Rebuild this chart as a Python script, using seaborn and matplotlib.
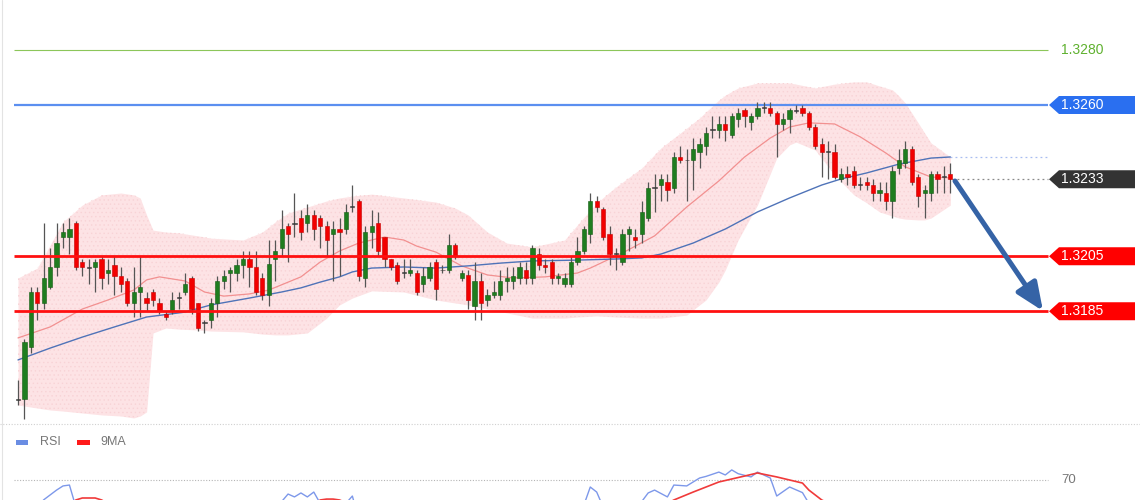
import numpy as np
import pandas as pd
import matplotlib
matplotlib.use("Agg")
import matplotlib.pyplot as plt
from matplotlib.patches import Polygon, Rectangle
from matplotlib.lines import Line2D
import seaborn as sns

# ---------------- data ----------------
open_ = [1.3153,1.3153,1.3172,1.3192,1.3188,1.3194,1.3201,1.3212,1.3212,1.3217,
 1.3203,1.3201,1.3201,1.3204,1.3199,1.3202,1.3198,1.3196,1.3188,1.3192,
 1.3190,1.3192,1.3188,1.3184,1.3185,1.3190,1.3192,1.3197,1.3188,1.3181,
 1.3182,1.3188,1.3196,1.3199,1.3199,1.3202,1.3204,1.3201,1.3197,1.3191,
 1.3204,1.3208,1.3216,1.3217,1.3219,1.3217,1.3220,1.3219,1.3216,1.3213,
 1.3215,1.3215,1.3223,1.3225,1.3197,1.3214,1.3217,1.3212,1.3204,1.3202,
 1.3199,1.3199,1.3199,1.3195,1.3197,1.3203,1.3200,1.3200,1.3209,1.3197,
 1.3198,1.3187,1.3196,1.3189,1.3191,1.3191,1.3196,1.3196,1.3197,1.3200,
 1.3197,1.3206,1.3202,1.3203,1.3197,1.3195,1.3195,1.3203,1.3207,1.3213,
 1.3225,1.3222,1.3213,1.3206,1.3203,1.3213,1.3212,1.3213,1.3219,1.3230,
 1.3231,1.3232,1.3230,1.3241,1.3240,1.3240,1.3243,1.3245,1.3251,1.3251,
 1.3253,1.3249,1.3255,1.3258,1.3254,1.3256,1.3259,1.3259,1.3257,1.3253,
 1.3255,1.3258,1.3259,1.3257,1.3252,1.3246,1.3243,1.3243,1.3233,1.3235,
 1.3236,1.3231,1.3232,1.3231,1.3228,1.3228,1.3225,1.3237,1.3239,1.3244,
 1.3234,1.3228,1.3228,1.3235,1.3234,1.3235]
high = [1.3160,1.3175,1.3194,1.3194,1.3217,1.3208,1.3217,1.3217,1.3219,1.3218,
 1.3204,1.3204,1.3204,1.3205,1.3204,1.3205,1.3201,1.3197,1.3201,1.3205,
 1.3192,1.3193,1.3190,1.3185,1.3192,1.3192,1.3199,1.3198,1.3188,1.3182,
 1.3190,1.3198,1.3200,1.3201,1.3204,1.3207,1.3207,1.3207,1.3199,1.3211,
 1.3211,1.3222,1.3217,1.3228,1.3222,1.3224,1.3222,1.3220,1.3218,1.3218,
 1.3219,1.3224,1.3231,1.3226,1.3216,1.3222,1.3221,1.3212,1.3204,1.3203,
 1.3204,1.3204,1.3200,1.3201,1.3203,1.3204,1.3202,1.3213,1.3210,1.3200,
 1.3200,1.3203,1.3199,1.3193,1.3196,1.3200,1.3201,1.3201,1.3203,1.3203,
 1.3209,1.3208,1.3204,1.3204,1.3199,1.3199,1.3205,1.3212,1.3216,1.3228,
 1.3227,1.3223,1.3216,1.3208,1.3215,1.3216,1.3215,1.3225,1.3232,1.3235,
 1.3235,1.3235,1.3243,1.3245,1.3244,1.3248,1.3248,1.3252,1.3256,1.3256,
 1.3256,1.3257,1.3259,1.3259,1.3257,1.3261,1.3261,1.3261,1.3258,1.3257,
 1.3259,1.3260,1.3260,1.3258,1.3253,1.3248,1.3247,1.3246,1.3237,1.3238,
 1.3238,1.3234,1.3234,1.3233,1.3232,1.3232,1.3238,1.3244,1.3247,1.3245,
 1.3235,1.3231,1.3236,1.3236,1.3238,1.3239]
low = [1.3151,1.3146,1.3170,1.3182,1.3186,1.3193,1.3198,1.3208,1.3206,1.3200,
 1.3198,1.3195,1.3192,1.3193,1.3195,1.3191,1.3192,1.3187,1.3183,1.3183,
 1.3185,1.3187,1.3184,1.3182,1.3184,1.3186,1.3191,1.3184,1.3178,1.3177,
 1.3179,1.3183,1.3193,1.3192,1.3196,1.3197,1.3194,1.3191,1.3189,1.3187,
 1.3196,1.3205,1.3203,1.3212,1.3211,1.3214,1.3211,1.3208,1.3205,1.3196,
 1.3198,1.3213,1.3221,1.3196,1.3194,1.3208,1.3205,1.3201,1.3200,1.3195,
 1.3197,1.3198,1.3191,1.3192,1.3196,1.3189,1.3199,1.3199,1.3204,1.3196,
 1.3186,1.3182,1.3182,1.3187,1.3190,1.3189,1.3192,1.3193,1.3195,1.3195,
 1.3195,1.3200,1.3199,1.3195,1.3195,1.3194,1.3194,1.3202,1.3206,1.3210,
 1.3221,1.3211,1.3202,1.3200,1.3202,1.3207,1.3208,1.3210,1.3218,1.3221,
 1.3225,1.3225,1.3228,1.3239,1.3225,1.3229,1.3237,1.3242,1.3248,1.3248,
 1.3247,1.3248,1.3252,1.3252,1.3251,1.3255,1.3257,1.3256,1.3241,1.3251,
 1.3250,1.3257,1.3256,1.3251,1.3244,1.3234,1.3233,1.3233,1.3232,1.3231,
 1.3230,1.3229,1.3229,1.3225,1.3225,1.3222,1.3219,1.3235,1.3237,1.3231,
 1.3223,1.3219,1.3225,1.3228,1.3228,1.3228]
close = [1.3153,1.3174,1.3192,1.3188,1.3197,1.3201,1.3210,1.3214,1.3215,1.3201,
 1.3201,1.3201,1.3203,1.3197,1.3200,1.3198,1.3195,1.3188,1.3192,1.3194,
 1.3188,1.3189,1.3185,1.3183,1.3189,1.3190,1.3195,1.3186,1.3179,1.3181,
 1.3188,1.3196,1.3198,1.3200,1.3202,1.3204,1.3201,1.3192,1.3191,1.3202,
 1.3207,1.3215,1.3213,1.3217,1.3214,1.3220,1.3215,1.3216,1.3211,1.3215,
 1.3214,1.3221,1.3223,1.3198,1.3214,1.3216,1.3207,1.3204,1.3201,1.3196,
 1.3199,1.3200,1.3192,1.3198,1.3201,1.3193,1.3200,1.3209,1.3205,1.3199,
 1.3189,1.3196,1.3188,1.3191,1.3192,1.3196,1.3197,1.3198,1.3201,1.3197,
 1.3208,1.3202,1.3201,1.3197,1.3198,1.3197,1.3203,1.3207,1.3215,1.3225,
 1.3223,1.3212,1.3206,1.3206,1.3213,1.3215,1.3211,1.3221,1.3230,1.3230,
 1.3233,1.3229,1.3241,1.3240,1.3240,1.3244,1.3246,1.3250,1.3251,1.3253,
 1.3251,1.3256,1.3257,1.3256,1.3256,1.3259,1.3259,1.3257,1.3253,1.3255,
 1.3258,1.3258,1.3257,1.3252,1.3245,1.3243,1.3243,1.3234,1.3235,1.3234,
 1.3231,1.3231,1.3231,1.3228,1.3229,1.3225,1.3236,1.3240,1.3244,1.3232,
 1.3227,1.3229,1.3235,1.3233,1.3234,1.3233]

# Bollinger band (read at sample candles)
band_idx = [1,4,6,8,11,14,17,19,20,21,22,24,26,29,31,36,39,41,43,46,49,51,53,56,61,66,69,71,74,77,
            81,86,88,91,94,98,101,105,107,108,110,111,113,116,119,121,122,125,128,131,133,135,137,138,139,
            141,142,143,146]
band_upper = [1.31971,1.32007,1.32091,1.32175,1.32236,1.32273,1.32280,1.32273,1.32262,1.32200,
              1.32145,1.32138,1.32135,1.32124,1.32116,1.32109,1.32138,1.32175,1.32207,1.32229,
              1.32251,1.32262,1.32269,1.32276,1.32262,1.32247,1.32225,1.32200,1.32138,1.32098,
              1.32084,1.32109,1.32164,1.32244,1.32302,1.32371,1.32444,1.32516,1.32553,1.32575,
              1.32618,1.32636,1.32662,1.32680,1.32680,1.32680,1.32676,1.32662,1.32676,1.32684,
              1.32684,1.32669,1.32655,1.32633,1.32607,1.32535,1.32498,1.32462,1.32411]
band_lower = [1.31509,1.31498,1.31491,1.31487,1.31480,1.31473,1.31469,1.31462,1.31469,1.31484,
              1.31771,1.31789,1.31785,1.31782,1.31778,1.31775,1.31767,1.31764,1.31764,1.31771,
              1.31825,1.31873,1.31898,1.31924,1.31920,1.31891,1.31880,1.31873,1.31858,1.31844,
              1.31825,1.31825,1.31829,1.31833,1.31829,1.31825,1.31825,1.31836,1.31873,1.31891,
              1.31956,1.32000,1.32109,1.32236,1.32407,1.32455,1.32465,1.32436,1.32345,1.32273,
              1.32244,1.32211,1.32196,1.32189,1.32185,1.32182,1.32182,1.32189,1.32236]

mid_idx = [1,6,11,15,19,21,23,27,30,33,37,40,45,48,51,54,56,58,61,63,66,70,74,78,83,88,90,95,100,
           105,110,114,118,121,124,128,132,136,139,143,146]
mid_vals = [1.31753,1.31793,1.31858,1.31891,1.31927,1.31964,1.31975,1.31960,1.31920,1.31905,
            1.31913,1.31927,1.31975,1.32029,1.32069,1.32098,1.32109,1.32120,1.32109,1.32087,
            1.32065,1.32015,1.31982,1.31971,1.31975,1.31989,1.32007,1.32062,1.32124,1.32229,
            1.32324,1.32411,1.32480,1.32520,1.32535,1.32531,1.32484,1.32425,1.32375,1.32338,1.32335]

ma_idx = [1,6,11,16,21,27,31,37,42,45,48,51,53,56,61,66,71,76,81,88,94,98,101,106,111,116,121,
          126,129,133,138,143,146]
ma_vals = [1.31673,1.31716,1.31756,1.31793,1.31829,1.31847,1.31873,1.31898,1.31920,1.31935,
           1.31956,1.31975,1.31993,1.32007,1.32011,1.32007,1.32015,1.32025,1.32033,1.32036,
           1.32040,1.32044,1.32058,1.32098,1.32149,1.32211,1.32262,1.32309,1.32331,1.32353,
           1.32385,1.32407,1.32411]

levels = [1.3280, 1.3260, 1.3233, 1.3205, 1.3185]
level_labels = ["1.3280", "1.3260", "1.3233", "1.3205", "1.3185"]

rsi_idx = [1,4,5,7,8,9,10,14,20,30,40,42,43,44,45,46,47,48,52,53,54,60,70,80,88,89,90,91,92,96,
           98,99,100,102,103,105,106,107,108,110,111,112,113,115,116,118,119,121,123,124,128,135,140,146]
rsi_vals = [50,55,59,64.4,66.7,67.2,55,48,47,42,52,58,62.2,60.6,62.8,60.6,63.3,57,57,61.1,48,42,44,50,
            52,56,66.1,63.3,55,55,58,62.8,64.4,60.6,67.2,66.7,68.9,71.1,72,74.4,72.8,75.6,73.5,71.7,
            74.4,71.1,61.1,66.1,63,57,42,45,50,45]
rsi_ma_idx = [1,9,10,11,13,14,16,30,47,48,49,50,51,53,80,101,103,106,110,114,116,119,123,124,126,130,146]
rsi_ma_vals = [50,56,58.9,60,60,58.9,55,48,56,58.9,59.4,59.4,58.9,56,48,55,58.9,63.3,68.9,72.2,73.9,
               71.7,68.3,64.4,58.9,52,45]
rsi_level = 70

# ---------------- layout helpers ----------------
PX = 6.43                     # pixels per candle
def xi(px):                   # pixel x -> candle-index coordinate
    return 1 + (px - 18) / PX
PPX = 27500.0                 # pixels per price unit
def py(ypx):                  # pixel y -> price coordinate
    return 1.3280 - (ypx - 50) / PPX

sns.set_theme(style="white")
plt.rcParams['font.family'] = ['Liberation Sans', 'DejaVu Sans']
plt.rcParams['hatch.linewidth'] = 0.5

fig = plt.figure(figsize=(11.4, 5.0), dpi=100)
fig.patch.set_facecolor('white')

ax = fig.add_axes([0, 80/500, 1, 420/500])
ax.set_xlim(xi(0), xi(1140))
ax.set_ylim(py(420), py(0))
ax.axis('off')

idx = np.arange(1, len(close) + 1)
o = np.array(open_); h = np.array(high); l = np.array(low); c = np.array(close)

# Bollinger band fill
ax.fill_between(band_idx, band_lower, band_upper, color='#fde3e5', lw=0, zorder=1)
ax.fill_between(band_idx, band_lower, band_upper, facecolor='none', edgecolor='#f8d3d6',
                hatch='....', lw=0, zorder=1)

# Horizontal levels
x0, x1 = xi(14), xi(1048)
ax.hlines(levels[0], x0, x1, color='#8cc65a', lw=0.8, zorder=2)
ax.hlines(levels[1], x0, x1, color='#5b8ff0', lw=1.6, zorder=2)
ax.hlines(levels[3], x0, x1, color='#ff1010', lw=2.0, zorder=6)
ax.hlines(levels[4], x0, x1, color='#ff1010', lw=2.0, zorder=6)
ax.hlines(levels[2], xi(952), x1, color='#8a8a8a', lw=0.9, linestyles=(0, (1.5, 2.5)), zorder=2)
ax.hlines(ma_vals[-1], xi(950), x1, color='#a8bdf0', lw=0.9, linestyles=(0, (1.5, 2.5)), zorder=2)

# Moving averages (seaborn)
sns.lineplot(x=mid_idx, y=mid_vals, ax=ax, color='#f29090', lw=0.9, zorder=3, legend=False)
sns.lineplot(x=ma_idx, y=ma_vals, ax=ax, color='#4f73b8', lw=1.0, zorder=3, legend=False)

# Candles
ax.vlines(idx, l, h, color='#555555', lw=0.9, zorder=4)
body_lo = np.minimum(o, c)
body_h = np.abs(c - o)
doji = body_h < 1e-7
cols = np.where(c > o, '#1f7d1f', '#f20000')
cols = np.where(doji, '#3a3a3a', cols)
edges = np.where(c > o, '#145c14', '#c40000')
edges = np.where(doji, '#3a3a3a', edges)
body_h = np.where(doji, 0.000035, body_h)
body_lo = np.where(doji, o - 0.0000175, body_lo)
ax.bar(idx, body_h, bottom=body_lo, width=0.66, color=cols, edgecolor=edges, lw=0.4, zorder=5)

# Right-hand price tags
hh = 9 / PPX
def tag(price, text, color):
    pts = [(xi(1049), price), (xi(1059), price + hh), (xi(1135), price + hh),
           (xi(1135), price - hh), (xi(1059), price - hh)]
    ax.add_patch(Polygon(pts, closed=True, facecolor=color, edgecolor='none', zorder=7))
    ax.text(xi(1061), price, text, color='white', fontsize=10, va='center', ha='left', zorder=8)

ax.text(xi(1061), levels[0], level_labels[0], color='#5fb12f', fontsize=10, va='center', ha='left')
tag(levels[1], level_labels[1], '#2a6ff0')
tag(levels[2], level_labels[2], '#333333')
tag(levels[3], level_labels[3], '#ff0000')
tag(levels[4], level_labels[4], '#ff0000')

# Forecast arrow
ax.annotate('', xy=(xi(1043), py(311)), xytext=(xi(955), py(181)),
            arrowprops=dict(arrowstyle='-|>,head_length=1.4,head_width=0.6',
                            color='#3563a6', lw=3.6, shrinkA=0, shrinkB=0), zorder=9)

# ---------------- RSI panel ----------------
ax2 = fig.add_axes([0, 0, 1, 75/500])
ax2.set_xlim(xi(0), xi(1140))
ax2.set_ylim(70 - 20/1.8, 70 + 55/1.8)
ax2.axis('off')
ax2.hlines(rsi_level, x0, x1, color='#b5b5b5', lw=0.8, linestyles=(0, (1, 1.5)))
ax2.text(xi(1061), rsi_level, str(rsi_level), color='#777777', fontsize=9.5, va='center', ha='left')
sns.lineplot(x=rsi_idx, y=rsi_vals, ax=ax2, color='#7d98ea', lw=1.0, legend=False)
sns.lineplot(x=rsi_ma_idx, y=rsi_ma_vals, ax=ax2, color='#f03a3a', lw=1.2, legend=False)

# legend of RSI panel
fig.add_artist(Rectangle((16/1140, 1 - 445/500), 12/1140, 5/500, transform=fig.transFigure,
                         facecolor='#6a8de3', edgecolor='none'))
fig.text(40/1140, 1 - 442/500, "RSI", color='#777777', fontsize=9, va='center', ha='left')
fig.add_artist(Rectangle((77/1140, 1 - 445/500), 13/1140, 5/500, transform=fig.transFigure,
                         facecolor='#ff1a1a', edgecolor='none'))
fig.text(100/1140, 1 - 442/500, "9MA", color='#777777', fontsize=9, va='center', ha='left')

# separators
fig.add_artist(Line2D([0, 1], [1 - 424/500] * 2, transform=fig.transFigure,
                      color='#d0d0d0', lw=0.8, ls=(0, (1, 1.5))))
fig.add_artist(Line2D([2/1140] * 2, [0, 1], transform=fig.transFigure, color='#e3e3e3', lw=0.8))

fig.savefig('out.png', dpi=100, facecolor='white')
